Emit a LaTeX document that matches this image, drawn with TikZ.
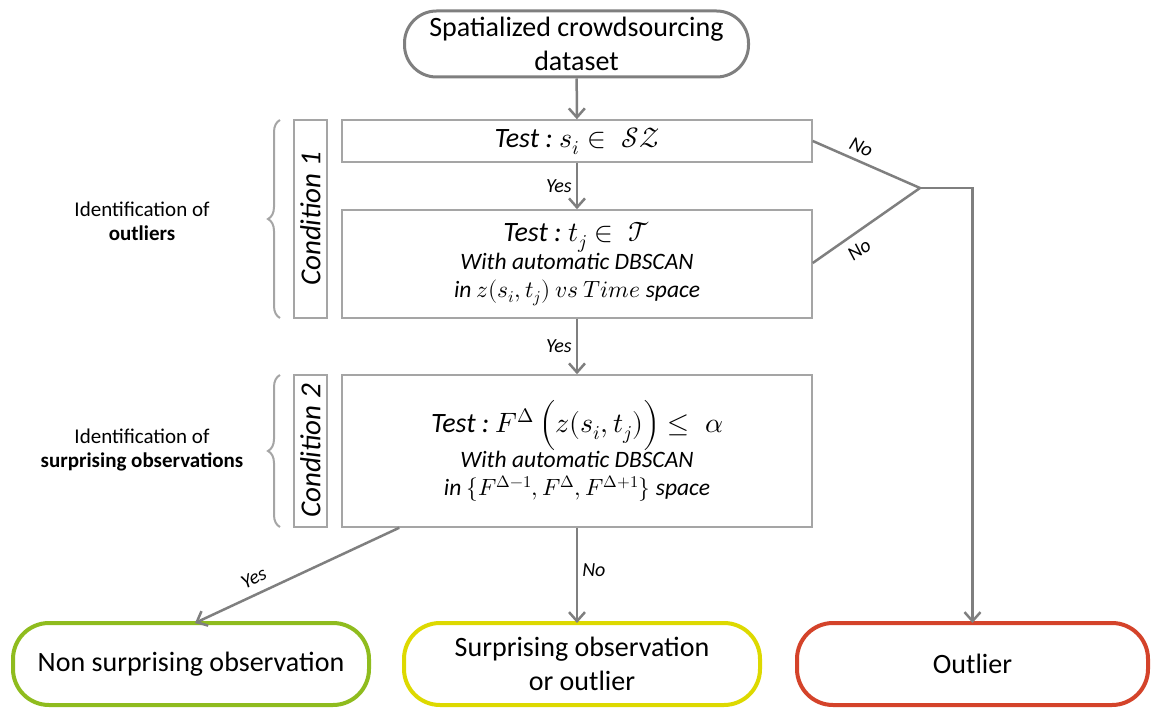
\documentclass[tikz,border=0pt]{standalone}
\usepackage{fontspec}
\usepackage{unicode-math}
\setmainfont{Carlito}
\setmathfont{Latin Modern Math}
\usetikzlibrary{arrows.meta,decorations.pathreplacing}

\definecolor{linegray}{HTML}{7F7F7F}
\definecolor{boxgray}{HTML}{A5A5A5}
\definecolor{okgreen}{HTML}{8FBC1E}
\definecolor{midyellow}{HTML}{DDD900}
\definecolor{badred}{HTML}{D4432A}

\begin{document}
\begin{tikzpicture}[x=1pt,y=-1pt,
  line/.style={draw=linegray,line width=2.5pt},
  arrow/.style={line,-{Straight Barb[length=9pt,width=16pt,line width=2.5pt]}},
  testbox/.style={draw=boxgray,line width=1.5pt,minimum width=470pt,align=center,inner sep=0pt,
    font=\fontsize{23.5}{28}\selectfont\itshape},
  condbox/.style={draw=boxgray,line width=1.5pt,rotate=90,minimum height=33pt,inner sep=0pt,
    font=\fontsize{29}{30}\selectfont\itshape},
  endbox/.style={rounded corners=36pt,line width=4pt,minimum width=356pt,minimum height=82pt,
    align=center,font=\fontsize{28}{34}\selectfont},
  answer/.style={font=\fontsize{20}{22}\selectfont\itshape,inner sep=4pt},
  side/.style={align=center,font=\fontsize{21}{24}\selectfont}]
\useasboundingbox (0,0) rectangle (1153,708);

\node[draw=linegray,line width=3pt,rounded corners=32pt,minimum width=344pt,minimum height=66pt,
  align=center,font=\fontsize{28}{34}\selectfont] (data) at (576.5,44)
  {Spatialized crowdsourcing\\dataset};

\node[testbox,minimum height=42pt] (test1) at (577,141)
  {{\fontsize{28}{30}\selectfont Test :~$s_i \in\; \mathcal{SZ}$}};
\node[testbox,minimum height=108pt] (test2) at (577,264)
  {{\fontsize{28}{30}\selectfont Test :~$t_j \in\; \mathcal{T}$}\\
   With automatic DBSCAN\\
   in $z(s_i,t_j)\ vs\ Time$ space};
\node[testbox,minimum height=152pt] (test3) at (577,451)
  {{\fontsize{28}{36}\selectfont Test :~$F^{\Delta}\,\Bigl(z(s_i,t_j)\Bigr) \le\; \alpha$}\\
   With automatic DBSCAN\\
   in $\{F^{\Delta-1}, F^{\Delta}, F^{\Delta+1}\}$ space};

\node[condbox,minimum width=198pt] (cond1) at (310.5,219) {Condition 1};
\node[condbox,minimum width=152pt] (cond2) at (310.5,451) {Condition 2};

\draw[draw=boxgray,line width=2pt,decorate,decoration={brace,amplitude=12pt}]
  (280,318) -- (280,120);
\draw[draw=boxgray,line width=2pt,decorate,decoration={brace,amplitude=12pt}]
  (280,527) -- (280,375);

\node[side] (idout) at (142,221) {Identification of\\\textbf{outliers}};
\node[side] (idsurp) at (142,450) {Identification of\\\textbf{surprising observations}};

\node[endbox,draw=okgreen] (nonsurp) at (191,664) {Non surprising observation};
\node[endbox,draw=midyellow] (surp) at (582,664) {Surprising observation\\or outlier};
\node[endbox,draw=badred,minimum width=351pt] (outlier) at (972.5,664) {Outlier};

\coordinate (join) at (920,188);

\draw[arrow] (data) -- (test1);
\draw[arrow] (test1) -- node[answer,left] {Yes} (test2);
\draw[arrow] (test2) -- node[answer,left] {Yes} (test3);
\draw[line] (test1.east) -- node[answer,sloped,above,pos=0.4,inner sep=6pt] {No} (join);
\draw[line] ([yshift=1pt]test2.east) -- node[answer,sloped,below,pos=0.35,inner sep=8pt] {No} (join);
\draw[arrow] (join) -| ([yshift=-2pt]outlier.north);
\draw[arrow] ([xshift=58pt]test3.south west) -- node[answer,sloped,above,pos=0.68,inner sep=8pt] {Yes} ([xshift=4pt,yshift=-2pt]nonsurp.north);
\draw[arrow] (test3) -- node[answer,right,pos=0.45] {No} ([yshift=-2pt]surp.north -| test3.south);
\end{tikzpicture}
\end{document}
